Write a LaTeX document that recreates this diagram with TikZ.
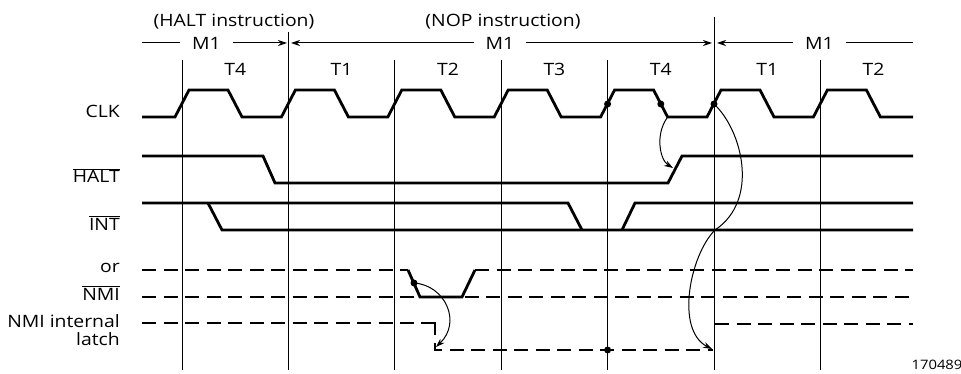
\documentclass[tikz,border=0pt]{standalone}
\usepackage{fontspec}
\setmainfont{Open Sans}[FakeStretch=1.14]
\usetikzlibrary{arrows.meta}

\tikzset{
  sig/.style={line width=2.8pt},
  sigdash/.style={line width=2.8pt,dash pattern=on 14pt off 7.5pt},
  gridline/.style={line width=1pt},
  bracket/.style={line width=1pt,-{Stealth[length=9pt,width=6pt]}},
  cause/.style={line width=1pt,-{Stealth[length=9pt,width=6pt]}},
  lbl/.style={anchor=base east,inner sep=0pt},
  cyc/.style={anchor=base,inner sep=0pt},
  mone/.style={inner xsep=12pt,inner ysep=0pt},
  dot/.style={circle,fill,inner sep=0pt,minimum size=7pt}
}

\begin{document}
\begin{tikzpicture}[x=1pt,y=-1pt,every node/.style={font=\fontsize{17}{20}\selectfont}]
  \useasboundingbox (0,0) rectangle (961,374);

  % clock period grid
  \foreach \k/\top in {0/60,1/32,2/60,3/60,4/60,5/17,6/60}
    \draw[gridline] ({182+106.4*\k},\top) -- ({182+106.4*\k},370);
  \foreach \t [count=\k from 0] in {T4,T1,T2,T3,T4,T1,T2}
    \node[cyc] (t\k) at ({235.2+106.4*\k},76) {\t};

  % instruction headings and machine cycles
  \node[cyc] (haltins) at (234,27) {(HALT instruction)};
  \node[cyc] (nopins) at (503,27) {(NOP instruction)};
  \node[mone] (m1a) at (206.5,43) {M1};
  \node[mone] (m1b) at (500,43) {M1};
  \node[mone] (m1c) at (819.5,43) {M1};
  \coordinate (s0) at (142,43);
  \coordinate (e1l) at (287,43);
  \coordinate (e1r) at (291,43);
  \coordinate (e2l) at (712,43);
  \coordinate (e2r) at (717,43);
  \coordinate (s3) at (913,43);
  \draw[gridline] (s0) -- (m1a);
  \draw[bracket] (m1a) -- (e1l);
  \draw[bracket] (m1b) -- (e1r);
  \draw[bracket] (m1b) -- (e2l);
  \draw[bracket] (m1c) -- (e2r);
  \draw[gridline] (m1c) -- (s3);

  % signal names
  \node[lbl] (clk) at (120,118) {CLK};
  \node[lbl] (halt) at (120,183) {$\overline{\mbox{HALT}}$};
  \node[lbl] (int) at (120,230) {$\overline{\mbox{INT}}$};
  \node[lbl] (or) at (120,272) {or};
  \node[lbl] (nmi) at (120,300) {$\overline{\mbox{NMI}}$};
  \node[lbl] (latch1) at (120,327) {NMI internal};
  \node[lbl] (latch2) at (120,345) {latch};

  % CLK
  \draw[sig] (142,117) foreach \k in {0,...,6} {
      -- ({175+106.4*\k},117) -- ({189+106.4*\k},90)
      -- ({228+106.4*\k},90) -- ({242+106.4*\k},117) } -- (913,117);

  % HALT
  \draw[sig] (142,156) -- (263,156) -- (275,183) -- (668,183) -- (682,156) -- (913,156);

  % INT
  \draw[sig] (142,203) -- (568,203) -- (582,230);
  \draw[sig] (208,203) -- (222,230) -- (913,230);
  \draw[sig] (622,230) -- (635,203) -- (913,203);

  % NMI
  \draw[sigdash] (142,270) -- (408,270);
  \draw[sig] (408,270) -- (420,297) -- (462,297) -- (475,270);
  \draw[sigdash] (475,270) -- (913,270);
  \draw[sigdash] (142,297) -- (913,297);

  % NMI internal latch
  \draw[sigdash] (142,323) -- (429,323);
  \draw[sig] (421,323) -- (435,323) -- (435,335);
  \draw[sigdash] (435,343) -- (435,350) -- (713,350);
  \draw[sigdash] (715,324) -- (913,324);

  % sampling points
  \node[dot] (d1) at (607.6,104) {};
  \node[dot] (d2) at (660.8,104) {};
  \node[dot] (d3) at (714,104) {};
  \node[dot] (nmidot) at (414,283) {};
  \node[dot] (latchdot) at (607.6,350) {};
  \coordinate (clkfall) at (667,118);
  \coordinate (haltrise) at (673,168);
  \coordinate (intx) at (715,230);
  \coordinate (latchend) at (712,349);
  \coordinate (latchset) at (436,347);

  \draw[cause] (clkfall) .. controls +(-12,17) and +(-13,-8) .. (haltrise);
  \draw[cause] (nmidot.center) .. controls (445,285) and (462,322) .. (latchset);
  \draw[cause] (d3.center) .. controls (742,130) and (760,200) .. (intx)
    .. controls (690,255) and (675,330) .. (latchend);

  \node[cyc,font=\fontsize{13}{15}\selectfont] (figno) at (937,369) {170489};
\end{tikzpicture}
\end{document}
